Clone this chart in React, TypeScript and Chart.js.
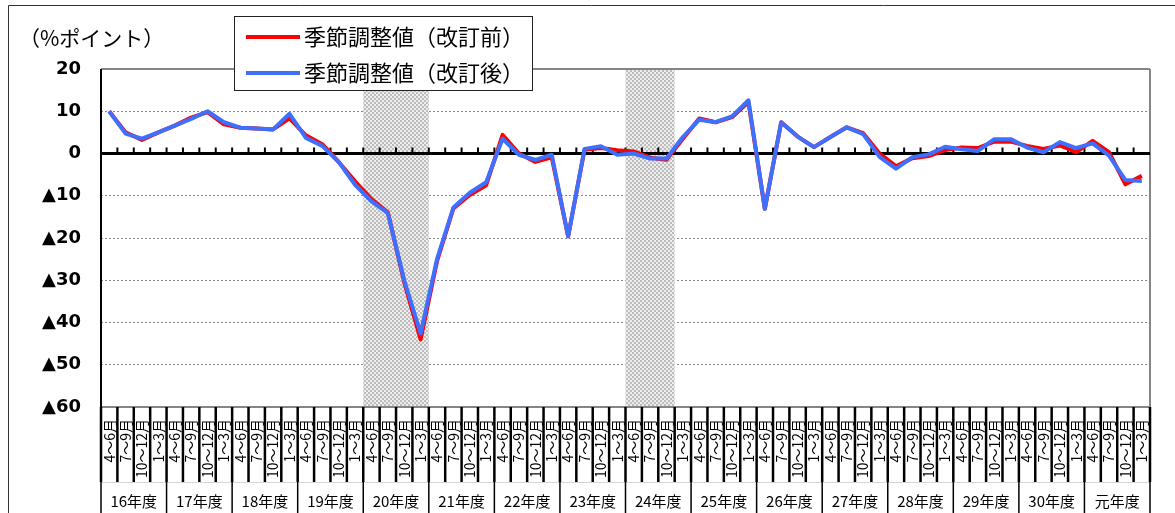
import React, { useEffect, useRef } from 'react';
import { Chart, registerables } from 'chart.js';

Chart.register(...registerables);

// ---- data ----
const fiscalYears = ['16年度', '17年度', '18年度', '19年度', '20年度', '21年度', '22年度', '23年度',
  '24年度', '25年度', '26年度', '27年度', '28年度', '29年度', '30年度', '元年度'];
const quarters = ['4～6月', '7～9月', '10～12月', '1～3月'];

// 季節調整値（改訂前）
const beforeRevision = [
  10.0, 5.0, 3.2, 5.0, 6.6, 8.5, 9.8, 6.9,
  6.1, 5.9, 5.7, 8.3, 4.3, 2.2, -2.0, -6.6,
  -10.8, -13.9, -30.5, -44.0, -25.5, -13.0, -9.8, -7.5,
  4.4, 0.0, -2.0, -0.9, -19.6, 0.9, 1.3, 0.8,
  0.5, -1.0, -1.5, 3.5, 8.3, 7.4, 8.6, 12.2,
  -13.1, 7.4, 4.0, 1.5, 3.9, 6.2, 4.8, 0.0,
  -3.0, -1.1, -0.6, 0.8, 1.4, 1.3, 2.8, 2.8,
  1.8, 1.1, 1.9, 0.3, 3.0, 0.3, -7.3, -5.3,
];
// 季節調整値（改訂後）
const afterRevision = [
  10.0, 4.7, 3.5, 5.0, 6.6, 8.2, 10.0, 7.4,
  6.1, 5.9, 5.7, 9.4, 3.7, 1.8, -2.0, -7.4,
  -11.3, -14.1, -30.0, -42.6, -25.0, -12.8, -9.3, -6.8,
  3.5, -0.3, -1.5, -0.3, -19.6, 1.1, 1.7, -0.3,
  0.0, -1.2, -1.2, 3.9, 8.0, 7.4, 8.8, 12.6,
  -13.1, 7.4, 4.0, 1.5, 3.9, 6.2, 4.6, -0.8,
  -3.6, -0.9, -0.2, 1.6, 1.0, 0.6, 3.4, 3.4,
  1.4, 0.3, 2.7, 1.3, 2.4, -0.5, -6.3, -6.5,
];

// shaded periods: [first category index, last category index]
const shadedPeriods = [[16, 19], [32, 34]];

const yMin = -60;
const yMax = 20;
const yStep = 10;
const dottedGridValues = [10, -10, -20, -30, -40, -50];

const seriesLabels = ['季節調整値（改訂前）', '季節調整値（改訂後）'];
const seriesColors = ['#ff0000', '#3f6fff'];
const unitLabel = '（%ポイント）';

const categories = fiscalYears.flatMap(() => quarters);

const JP = '"Noto Sans CJK JP", "Noto Sans", sans-serif';

function makePattern(ctx: CanvasRenderingContext2D) {
  const c = document.createElement('canvas');
  c.width = 4;
  c.height = 4;
  const p = c.getContext('2d')!;
  p.fillStyle = '#ededed';
  p.fillRect(0, 0, 4, 4);
  p.fillStyle = '#bdbdbd';
  p.fillRect(0, 0, 2, 2);
  p.fillRect(2, 2, 2, 2);
  return ctx.createPattern(c, 'repeat');
}

function line(ctx: CanvasRenderingContext2D, x1: number, y1: number, x2: number, y2: number) {
  ctx.beginPath();
  ctx.moveTo(x1, y1);
  ctx.lineTo(x2, y2);
  ctx.stroke();
}

const decorPlugin = {
  id: 'decor',
  beforeDraw(chart: any) {
    const { ctx, width, height } = chart;
    ctx.save();
    ctx.fillStyle = '#ffffff';
    ctx.fillRect(0, 0, width, height);
    ctx.restore();
  },
  beforeDatasetsDraw(chart: any) {
    const { ctx, chartArea: a, scales } = chart;
    const x = scales.x;
    const y = scales.y;
    const half = (x.getPixelForValue(1) - x.getPixelForValue(0)) / 2;
    ctx.save();
    // shading
    ctx.fillStyle = makePattern(ctx) || '#d8d8d8';
    for (const [s, e] of shadedPeriods) {
      const x0 = x.getPixelForValue(s) - half;
      const x1 = x.getPixelForValue(e) + half;
      ctx.fillRect(x0, a.top, x1 - x0, a.bottom - a.top);
    }
    // frame (gray)
    ctx.strokeStyle = '#858585';
    ctx.lineWidth = 2;
    line(ctx, a.left, a.top, a.right, a.top);
    line(ctx, a.right, a.top, a.right, a.bottom);
    line(ctx, a.left, a.bottom, a.right, a.bottom);
    // left axis
    ctx.strokeStyle = '#000';
    ctx.lineWidth = 2;
    line(ctx, a.left, a.top, a.left, a.bottom);
    // zero line
    const y0 = y.getPixelForValue(0);
    ctx.lineWidth = 3;
    line(ctx, a.left, y0, a.right, y0);
    ctx.lineWidth = 2;
    for (let i = 1; i < categories.length; i++) {
      const bx = x.getPixelForValue(i) - half;
      line(ctx, bx, y0 - 6, bx, y0);
    }
    ctx.restore();
  },
  afterDraw(chart: any) {
    const { ctx, chartArea: a, scales } = chart;
    const x = scales.x;
    const x2 = scales.x2;
    const half = (x.getPixelForValue(1) - x.getPixelForValue(0)) / 2;
    ctx.save();
    // faint row divider
    ctx.strokeStyle = '#d6d6d6';
    ctx.lineWidth = 1;
    line(ctx, a.left, x.bottom + 0.5, a.right, x.bottom + 0.5);
    // category separators
    ctx.strokeStyle = '#000';
    for (let i = 0; i <= categories.length; i++) {
      const bx = i < categories.length ? x.getPixelForValue(i) - half : x.getPixelForValue(i - 1) + half;
      ctx.lineWidth = 2.5;
      line(ctx, bx, a.bottom, bx, x.bottom);
      if (i % quarters.length === 0) {
        ctx.lineWidth = 1.5;
        line(ctx, bx, x.bottom, bx, x2.bottom);
      }
    }
    // unit label
    ctx.fillStyle = '#000';
    ctx.font = `21px ${JP}`;
    ctx.textBaseline = 'middle';
    ctx.textAlign = 'left';
    ctx.fillText(unitLabel, 19, 38);
    // legend
    const lx = 234.5, ly = 16.5, lw = 298, lh = 74;
    ctx.fillStyle = '#fff';
    ctx.fillRect(lx, ly, lw, lh);
    ctx.strokeStyle = '#222';
    ctx.lineWidth = 1;
    ctx.strokeRect(lx, ly, lw, lh);
    chart.data.datasets.forEach((ds: any, i: number) => {
      const ry = 37 + i * 36;
      ctx.strokeStyle = ds.borderColor;
      ctx.lineWidth = 4;
      line(ctx, 246, ry, 300, ry);
      ctx.fillStyle = '#000';
      ctx.font = `22px ${JP}`;
      ctx.fillText(ds.label, 304, ry);
    });
    // outer frame
    ctx.strokeStyle = '#333';
    ctx.lineWidth = 1;
    line(ctx, 8.5, 5.5, chart.width, 5.5);
    line(ctx, 8.5, 5.5, 8.5, chart.height);
    ctx.restore();
  },
};

export default function App() {
  const ref = useRef<HTMLCanvasElement | null>(null);
  useEffect(() => {
    if (!ref.current) return;
    const chart = new Chart(ref.current, {
      type: 'line',
      data: {
        labels: categories,
        datasets: [
          {
            label: seriesLabels[0],
            data: beforeRevision,
            borderColor: seriesColors[0],
            backgroundColor: seriesColors[0],
            borderWidth: 4,
            pointRadius: 0,
            tension: 0,
            borderJoinStyle: 'round',
            order: 1,
          },
          {
            label: seriesLabels[1],
            data: afterRevision,
            borderColor: seriesColors[1],
            backgroundColor: seriesColors[1],
            borderWidth: 4,
            pointRadius: 0,
            tension: 0,
            borderJoinStyle: 'round',
            order: 0,
          },
        ],
      },
      options: {
        responsive: false,
        animation: false,
        devicePixelRatio: 1,
        layout: { padding: { top: 69, right: 25, left: 0, bottom: 0 } },
        plugins: {
          legend: { display: false },
          tooltip: { enabled: false },
          title: { display: false },
        },
        scales: {
          x: {
            type: 'category',
            position: 'bottom',
            offset: true,
            weight: 0,
            grid: { display: false, drawTicks: false },
            border: { display: false },
            ticks: {
              autoSkip: false,
              minRotation: 90,
              maxRotation: 90,
              padding: 12,
              color: '#000',
              font: { family: JP, size: 14 },
            },
            afterFit: (s: any) => { s.height = 75; },
          },
          x2: {
            type: 'category',
            position: 'bottom',
            labels: fiscalYears,
            offset: true,
            weight: 1,
            grid: { display: false, drawTicks: false },
            border: { display: false },
            ticks: {
              autoSkip: false,
              maxRotation: 0,
              minRotation: 0,
              padding: 10,
              color: '#000',
              font: { family: JP, size: 15 },
            },
            afterFit: (s: any) => { s.height = 31; },
          },
          y: {
            min: yMin,
            max: yMax,
            ticks: {
              stepSize: yStep,
              padding: 20,
              color: '#000',
              font: { family: '"DejaVu Sans", sans-serif', size: 18, weight: 'bold' },
              callback: (v: any) => (Number(v) < 0 ? '▲' + Math.abs(Number(v)) : String(v)),
            },
            grid: {
              drawTicks: false,
              lineWidth: 1,
              color: (c: any) => (c.tick && dottedGridValues.includes(c.tick.value) ? '#8a8a8a' : 'rgba(0,0,0,0)'),
            },
            border: { display: false, dash: [2, 2] },
            afterFit: (s: any) => { s.width = 101; },
          },
        },
      },
      plugins: [decorPlugin],
    } as any);
    return () => chart.destroy();
  }, []);
  return (
    <div style={{ position: 'fixed', left: 0, top: 0, width: 1175, height: 513, background: '#fff' }}>
      <canvas ref={ref} width={1175} height={513} style={{ display: 'block' }} />
    </div>
  );
}
